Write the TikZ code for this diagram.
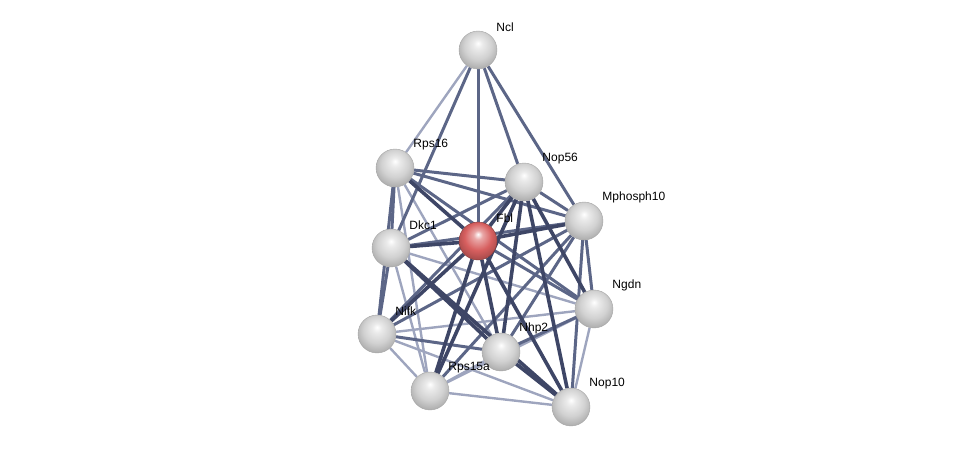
\documentclass[tikz,border=0pt]{standalone}
\usepackage{fontspec}
\setmainfont{Liberation Sans}
\usetikzlibrary{backgrounds}
\definecolor{strongc}{RGB}{62,70,102}
\definecolor{mediumc}{RGB}{92,102,135}
\definecolor{weakc}{RGB}{158,165,190}
\definecolor{fblred}{RGB}{215,95,95}
\pgfdeclareradialshading{greysphere}{\pgfpoint{0bp}{9bp}}{%
  color(0bp)=(white); color(6bp)=(white!92!black); color(18bp)=(white!82!black);
  color(30bp)=(white!66!black); color(50bp)=(white!60!black)}
\pgfdeclareradialshading{redsphere}{\pgfpoint{0bp}{9bp}}{%
  color(0bp)=(white); color(6bp)=(fblred!55!white); color(18bp)=(fblred);
  color(30bp)=(fblred!75!black); color(50bp)=(fblred!65!black)}
\tikzset{
  prot/.style={circle,minimum size=38pt,inner sep=0pt,shading=greysphere,draw=black!35,line width=0.4pt},
  query/.style={prot,shading=redsphere,draw=fblred!60!black},
  lbl/.style={font=\fontsize{12}{14}\selectfont,inner sep=1pt,label distance=1pt,xshift=3pt,yshift=3pt},
  strong/.style={line width=3.6pt,color=strongc},
  medium/.style={line width=3pt,color=mediumc},
  weak/.style={line width=2.4pt,color=weakc},
}
\begin{document}
\begin{tikzpicture}[x=1pt,y=-1pt]
\useasboundingbox (0,0) rectangle (976,452);
\node[prot,label={[lbl]45:Ncl}] (ncl) at (478,50) {};
\node[prot,label={[lbl]45:Rps16}] (rps16) at (395,168) {};
\node[prot,label={[lbl]45:Nop56}] (nop56) at (524,182) {};
\node[prot,label={[lbl]45:Mphosph10}] (mph) at (584,221) {};
\node[query,label={[lbl]45:Fbl}] (fbl) at (478,241) {};
\node[prot,label={[lbl]45:Dkc1}] (dkc1) at (391,248) {};
\node[prot,label={[lbl]45:Ngdn}] (ngdn) at (594,309) {};
\node[prot,label={[lbl]45:Nifk}] (nifk) at (377,334) {};
\node[prot,label={[lbl]45:Nhp2}] (nhp2) at (501,352) {};
\node[prot,label={[lbl]45:Rps15a}] (rps15a) at (430,391) {};
\node[prot,label={[lbl]45:Nop10}] (nop10) at (571,407) {};
\begin{scope}[on background layer]
% weak links
\foreach \a/\b in {ncl/rps16,rps16/nhp2,rps16/rps15a,dkc1/rps15a,dkc1/ngdn,nifk/rps15a,
  nifk/ngdn,nifk/nop10,rps15a/nhp2,rps15a/nop10,rps15a/ngdn,ngdn/nop10}
  \draw[weak] (\a) -- (\b);
% medium links
\foreach \a/\b in {ncl/dkc1,ncl/fbl,ncl/nop56,ncl/mph,rps16/dkc1,rps16/nifk,rps16/nop56,
  rps16/mph,rps16/ngdn,nop56/dkc1,nop56/mph,nop56/nifk,mph/dkc1,mph/ngdn,mph/nop10,
  mph/nhp2,mph/rps15a,mph/nifk,fbl/ngdn,dkc1/nifk,nifk/nhp2,nhp2/ngdn}
  \draw[medium] (\a) -- (\b);
% strong links
\foreach \a/\b in {rps16/fbl,nop56/fbl,nop56/ngdn,nop56/nhp2,nop56/nop10,nop56/rps15a,
  mph/fbl,fbl/dkc1,fbl/nifk,fbl/rps15a,fbl/nhp2,fbl/nop10,dkc1/nhp2,dkc1/nop10,nhp2/nop10}
  \draw[strong] (\a) -- (\b);
\end{scope}
\end{tikzpicture}
\end{document}
